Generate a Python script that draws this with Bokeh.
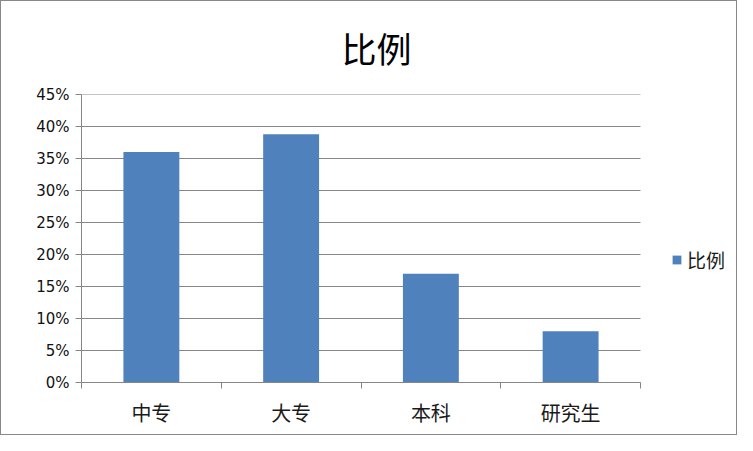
from bokeh.plotting import figure
from bokeh.models import (ColumnDataSource, FixedTicker, NumeralTickFormatter,
                          Legend, LegendItem, Range1d)
from bokeh.embed import file_html
from bokeh.resources import INLINE

categories = ["中专", "大专", "本科", "研究生"]
values = [0.36, 0.388, 0.17, 0.08]
series_name = "比例"
y_ticks = [0, 0.05, 0.10, 0.15, 0.20, 0.25, 0.30, 0.35, 0.40, 0.45]

W, H = 737, 435
LEFT, TOP, BOTTOM, RIGHT = 80, 91, 54, 1
PLOT_W = 559                      # width of the category area in px
frame_w = W - LEFT - RIGHT
n = len(categories)
x_end = n * frame_w / PLOT_W      # extra room on the right holds the legend

xs = [i + 0.5 for i in range(n)]
src = ColumnDataSource(dict(x=xs, top=values, cat=categories))
grid_src = ColumnDataSource(dict(y=y_ticks, x0=[0] * len(y_ticks), x1=[n] * len(y_ticks)))

GRAY = "#868686"
p = figure(width=W, height=H, output_backend="svg", toolbar_location=None,
           x_range=Range1d(0, x_end), y_range=Range1d(0, 0.45),
           min_border_left=LEFT, min_border_right=RIGHT, min_border_top=TOP,
           min_border_bottom=BOTTOM)
p.styles = {"border": "1px solid #888888"}

# horizontal grid lines limited to the category area
p.segment(x0="x0", x1="x1", y0="y", y1="y", source=grid_src,
          line_color=GRAY, line_width=1)

r = p.vbar(x="x", top="top", width=0.4, bottom=0, source=src,
           fill_color="#4F81BD", line_color=None)

p.title.text = "比例"
p.title.text_font = "Noto Sans CJK SC"
p.title.text_font_size = "35px"
p.title.text_font_style = "normal"
p.title.text_color = "#000000"
p.title.align = "left"
p.title.offset = 260
p.title.vertical_align = "top"
p.title.standoff = 40

# y axis
p.yaxis.ticker = FixedTicker(ticks=y_ticks)
p.yaxis.formatter = NumeralTickFormatter(format="0%")
p.yaxis.axis_line_color = GRAY
p.yaxis.major_tick_line_color = GRAY
p.yaxis.major_tick_out = 6
p.yaxis.major_tick_in = 0
p.yaxis.minor_tick_line_color = None
p.yaxis.major_label_text_font = "DejaVu Sans"
p.yaxis.major_label_text_font_size = "15px"
p.yaxis.major_label_text_color = "#111111"
p.yaxis.major_label_standoff = 6

# x axis
p.xaxis.bounds = (0, n)
p.xaxis.ticker = FixedTicker(ticks=xs, minor_ticks=list(range(n + 1)))
p.xaxis.major_label_overrides = {x: c for x, c in zip(xs, categories)}
p.xaxis.axis_line_color = GRAY
p.xaxis.major_tick_line_color = None
p.xaxis.minor_tick_line_color = GRAY
p.xaxis.minor_tick_out = 6
p.xaxis.minor_tick_in = 0
p.xaxis.major_label_text_font = "Noto Sans CJK SC"
p.xaxis.major_label_text_font_size = "20px"
p.xaxis.major_label_text_color = "#1a1a1a"
p.xaxis.major_label_standoff = 9

p.xgrid.grid_line_color = None
p.ygrid.grid_line_color = None
p.outline_line_color = None

legend = Legend(items=[LegendItem(label=series_name, renderers=[r])],
                location=(590, 109), border_line_color=None,
                background_fill_alpha=0,
                label_text_font="Noto Sans CJK SC", label_text_font_size="19px",
                label_text_color="#1a1a1a", glyph_width=11, glyph_height=11,
                label_standoff=5, padding=0, margin=0, spacing=0)
p.add_layout(legend, "center")

open("out.html", "w").write(file_html(p, INLINE))
